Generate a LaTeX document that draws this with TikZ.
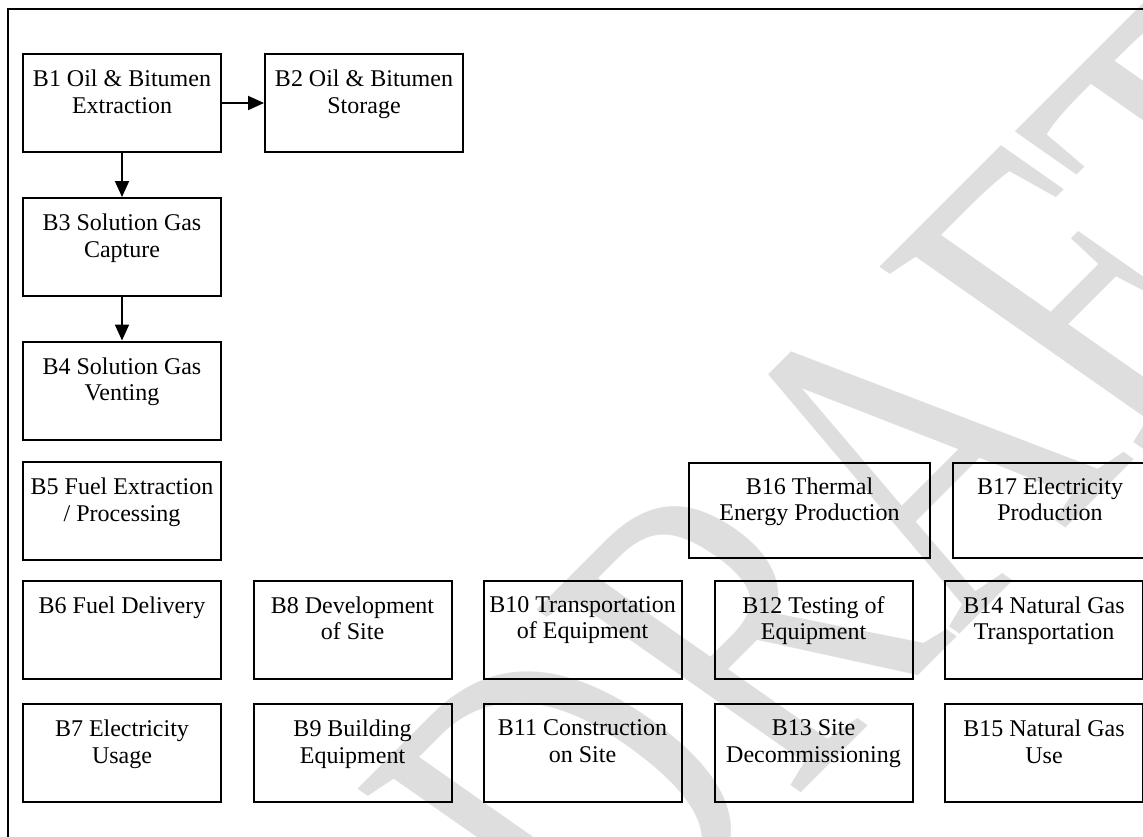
\documentclass[tikz,border=0pt]{standalone}
\usepackage{fontspec}
\setmainfont{Liberation Serif}
\usetikzlibrary{arrows.meta}

% top-aligned two-line label inside a block
\newcommand\lbl[2][190pt]{\parbox[c][66pt][t]{#1}{\centering #2}}

\tikzset{
  blk/.style={draw, line width=2pt, inner sep=0pt,
              minimum width=198pt, minimum height=98pt,
              font=\fontsize{24}{26.5}\selectfont},
  arr/.style={line width=2pt, -{Triangle[length=16pt,width=14pt]}},
  wmark/.style={transform shape, anchor=base west, inner sep=0pt,
                text=black!13, font=\fontsize{100}{100}\selectfont},
}

\begin{document}
\begin{tikzpicture}[x=1pt,y=-1pt]
\useasboundingbox (0,0) rectangle (1143,836);
\clip (0,0) rectangle (1143,836);

% diagonal watermark behind the diagram
\begin{scope}[cm={2.475,2.475,-4.013,2.813,(613,981)}]
  \node[wmark] (wm) at (0,0) {DRAFT};
\end{scope}

% outer frame
\draw[line width=2pt] (8,9) rectangle (1160,850);

% column 1
\node[blk] (b1) at (122,103)   {\lbl{B1 Oil \& Bitumen\\Extraction}};
\node[blk] (b2) at (364,103)   {\lbl{B2 Oil \& Bitumen\\Storage}};
\node[blk] (b3) at (122,247)   {\lbl{B3 Solution Gas\\Capture}};
\node[blk] (b4) at (122,390.5) {\lbl{B4 Solution Gas\\Venting}};
\node[blk] (b5) at (122,511)   {\lbl{B5 Fuel Extraction\\/ Processing}};
\node[blk] (b6) at (122,629.5) {\lbl{B6 Fuel Delivery}};
\node[blk] (b7) at (122,753)   {\lbl{B7 Electricity\\Usage}};

% lower grid
\node[blk] (b8)  at (352.5,629.5) {\lbl{B8 Development\\of Site}};
\node[blk] (b9)  at (352.5,753)   {\lbl{B9 Building\\Equipment}};
\node[blk] (b10) at (582.5,629.5) {\lbl{B10 Transportation\\of Equipment}};
\node[blk] (b11) at (582.5,753)   {\lbl{B11 Construction\\on Site}};
\node[blk] (b12) at (813.5,629.5) {\lbl{B12 Testing of\\Equipment}};
\node[blk] (b13) at (813.5,753)   {\lbl{B13 Site\\Decommissioning}};
\node[blk] (b14) at (1044,629.5)  {\lbl{B14 Natural Gas\\Transportation}};
\node[blk] (b15) at (1044,753)    {\lbl{B15 Natural Gas\\Use}};

% energy production blocks
\node[blk, minimum width=241pt, minimum height=95pt] (b16) at (809.5,510.5)
  {\lbl[235pt]{B16 Thermal\\Energy Production}};
\node[blk, minimum width=194pt, minimum height=95pt] (b17) at (1050,510.5)
  {\lbl{B17 Electricity\\Production}};

% flows
\draw[arr] (b1.east)  -- (b2.west);
\draw[arr] (b1.south) -- (b3.north);
\draw[arr] (b3.south) -- (b4.north);
\end{tikzpicture}
\end{document}
